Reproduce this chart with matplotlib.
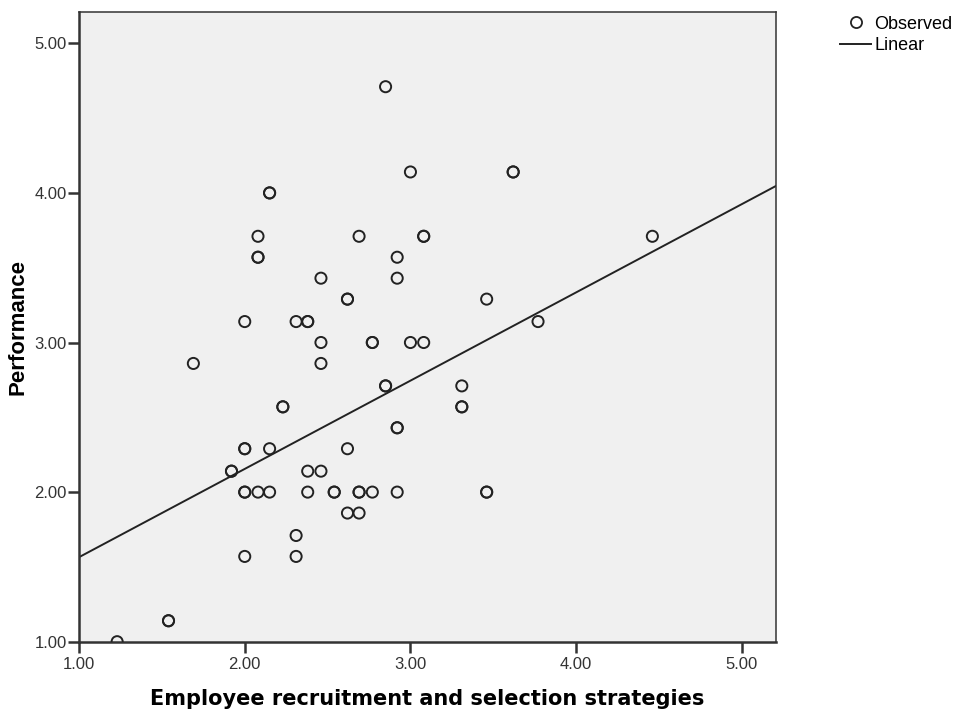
import numpy as np
import matplotlib
matplotlib.use("Agg")
import matplotlib.pyplot as plt

plt.rcParams['font.family'] = ['Liberation Sans', 'DejaVu Sans']

# observed points (x = recruitment strategies, y = performance)
# repeated pairs are overlapping cases, drawn darker in the original
recruit = [1.23, 1.54, 1.54, 1.69, 1.92, 1.92,
           2.00, 2.00, 2.00, 2.00, 2.00, 2.00, 2.08, 2.08, 2.08, 2.08,
           2.15, 2.15, 2.15, 2.15, 2.23, 2.23, 2.31, 2.31, 2.31,
           2.38, 2.38, 2.38, 2.38, 2.46, 2.46, 2.46, 2.46, 2.54, 2.54,
           2.62, 2.62, 2.62, 2.62, 2.69, 2.69, 2.69, 2.69, 2.77, 2.77, 2.77,
           2.85, 2.85, 2.85, 2.92, 2.92, 2.92, 2.92, 2.92,
           3.00, 3.00, 3.08, 3.08, 3.08, 3.31, 3.31, 3.31, 3.46, 3.46, 3.46,
           3.62, 3.62, 3.77, 4.46]
perform = [1.00, 1.14, 1.14, 2.86, 2.14, 2.14,
           3.14, 2.29, 2.29, 2.00, 2.00, 1.57, 3.71, 3.57, 3.57, 2.00,
           4.00, 4.00, 2.29, 2.00, 2.57, 2.57, 3.14, 1.71, 1.57,
           3.14, 3.14, 2.14, 2.00, 3.43, 3.00, 2.86, 2.14, 2.00, 2.00,
           3.29, 3.29, 2.29, 1.86, 3.71, 2.00, 2.00, 1.86, 3.00, 3.00, 2.00,
           4.71, 2.71, 2.71, 3.57, 3.43, 2.43, 2.43, 2.00,
           4.14, 3.00, 3.71, 3.71, 3.00, 2.71, 2.57, 2.57, 3.29, 2.00, 2.00,
           4.14, 4.14, 3.14, 3.71]

# linear fit as shown in the chart
intercept = 0.975
slope = 0.590

xticks = [1.0, 2.0, 3.0, 4.0, 5.0]
yticks = [1.0, 2.0, 3.0, 4.0, 5.0]

fig = plt.figure(figsize=(9.58, 7.10), dpi=100)
ax = fig.add_axes([0.0825, 0.0962, 0.7275, 0.8862])
ax.set_facecolor('#f0f0f0')

ax.scatter(recruit, perform, s=64, facecolors='none', edgecolors='#222222',
           linewidths=1.4, zorder=3)

xs = np.array([1.0, 5.206])
ax.plot(xs, intercept + slope * xs, color='#222222', lw=1.4, zorder=2)

ax.set_xlim(1.0, 5.206)
ax.set_ylim(1.0, 5.206)
ax.set_xticks(xticks)
ax.set_yticks(yticks)
ax.set_xticklabels([f"{t:.2f}" for t in xticks])
ax.set_yticklabels([f"{t:.2f}" for t in yticks])
ax.tick_params(axis='both', direction='out', length=8, width=1.8,
               color='#333333', labelsize=12, labelcolor='#333333')
ax.tick_params(axis='y', pad=1)
ax.tick_params(axis='x', pad=3)
for s in ax.spines.values():
    s.set_color('#333333')
    s.set_linewidth(1.1)
ax.spines['left'].set_linewidth(1.8)
ax.spines['bottom'].set_linewidth(1.8)

ax.set_xlabel('Employee recruitment and selection strategies', fontsize=15,
              fontweight='bold', family=['DejaVu Sans'], labelpad=12)
ax.set_ylabel('Performance', fontsize=16, fontweight='bold', labelpad=4)

# legend to the right of the plot
fig.legend(handles=[
    plt.Line2D([], [], ls='none', marker='o', mfc='none', mec='#222222',
               ms=8, mew=1.3, label='Observed'),
    plt.Line2D([], [], color='#222222', lw=1.4, label='Linear')],
    loc='upper left', bbox_to_anchor=(0.877, 0.978), frameon=False,
    fontsize=13, handlelength=1.7, handletextpad=0.2, labelspacing=0.25,
    borderpad=0, borderaxespad=0)

fig.savefig('out.png', dpi=100)
